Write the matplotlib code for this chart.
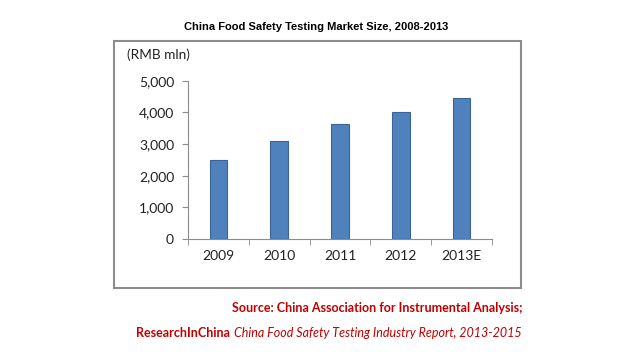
import matplotlib.pyplot as plt
from matplotlib.patches import Rectangle
from matplotlib.ticker import FuncFormatter

years = ["2009", "2010", "2011", "2012", "2013E"]
market_size = [2500, 3080, 3640, 4020, 4440]
y_ticks = [0, 1000, 2000, 3000, 4000, 5000]

W, H = 629, 352
fig = plt.figure(figsize=(W / 100, H / 100), dpi=100)

# outer chart frame
fig.patches.append(Rectangle((114 / W, 1 - 288 / H), 407 / W, 247 / H,
                             transform=fig.transFigure, fill=False,
                             edgecolor='#8c8c8c', lw=1.5))

fig.text(316 / W, 1 - 27 / H, "China Food Safety Testing Market Size, 2008-2013",
         ha='center', va='center', fontsize=8, fontweight='bold',
         family='Liberation Sans')

ax = fig.add_axes([188 / W, 1 - 239 / H, 304 / W, (239 - 80.7) / H])
x = range(len(years))
ax.bar(x, market_size, width=0.29, color='#4f81bd', edgecolor='#3b6393', lw=0.8)
ax.set_xlim(-0.5, len(years) - 0.5)
ax.set_ylim(0, 5000)
ax.set_yticks(y_ticks)
ax.yaxis.set_major_formatter(FuncFormatter(lambda v, p: f"{int(v):,}"))
ax.set_xticks(list(x))
ax.set_xticklabels(years)
ax.set_xticks([i - 0.5 for i in range(len(years) + 1)], minor=True)
ax.tick_params(axis='x', which='major', length=0, pad=8)
ax.tick_params(axis='x', which='minor', length=4, color='#8c8c8c')
ax.tick_params(axis='y', length=4, color='#8c8c8c', pad=6)
for lab in ax.get_xticklabels() + ax.get_yticklabels():
    lab.set_family('Lato')
    lab.set_fontsize(10)
    lab.set_color('#222222')
for s in ['top', 'right']:
    ax.spines[s].set_visible(False)
for s in ['left', 'bottom']:
    ax.spines[s].set_color('#8c8c8c')
    ax.spines[s].set_linewidth(0.8)

fig.text(127 / W, 1 - 55 / H, "(RMB mln)", ha='left', va='center',
         fontsize=9.8, family='Lato', color='#222222')

red = '#c00000'
fig.text(522 / W, 1 - 308 / H, "Source: China Association for Instrumental Analysis;",
         ha='right', va='center', fontsize=9, fontweight='bold', family='Lato',
         color=red)
t2 = fig.text(522 / W, 1 - 333 / H, "China Food Safety Testing Industry Report, 2013-2015",
              ha='right', va='center', fontsize=9, style='italic', family='Lato',
              color=red)
r = fig.canvas.get_renderer()
bb = t2.get_window_extent(renderer=r)
fig.text((bb.x0 - 4) / W, 1 - 333 / H, "ResearchInChina", ha='right', va='center',
         fontsize=9, fontweight='bold', family='Lato', color=red)

fig.savefig("out.png", dpi=100)
